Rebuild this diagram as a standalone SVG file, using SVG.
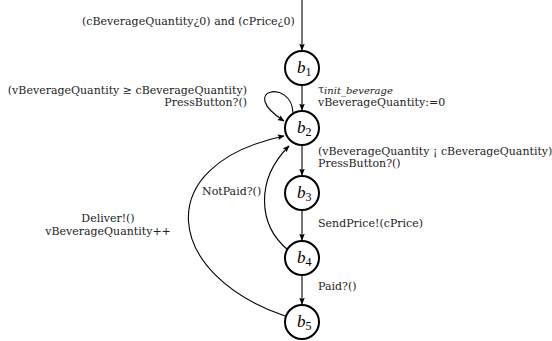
<svg xmlns="http://www.w3.org/2000/svg" width="552" height="341" viewBox="0 0 552 341">
<defs>
<marker id="ah" viewBox="0 0 10 10" refX="9" refY="5" markerWidth="7" markerHeight="7" markerUnits="userSpaceOnUse" orient="auto">
<path d="M0,1 L10,5 L0,9 L2,5 Z" fill="#000"/>
</marker>
<style>
.st{fill:#fff;stroke:#000;stroke-width:2}
.nl{font-family:"Liberation Serif",serif;font-style:italic;font-size:17px;fill:#000}
.sub{font-size:12px;font-style:normal}
.lb{font-family:"DejaVu Serif",serif;font-size:11px;fill:#222}
.ed{fill:none;stroke:#000;stroke-width:1.1;marker-end:url(#ah)}
</style>
</defs>
<rect width="552" height="341" fill="#fff"/>
<g id="edges">
<path class="ed" d="M302,0 L302,50"/>
<path class="ed" d="M302,85 L302,110"/>
<path class="ed" d="M293,113 C292,78 236,90 284,121"/>
<path class="ed" d="M302,145 L302,175"/>
<path class="ed" d="M302,210 L302,240"/>
<path class="ed" d="M302,275 L302,304"/>
<path class="ed" d="M288,250 C258,225 255,180 289,146"/>
<path class="ed" d="M285,316 C165,275 148,165 284,136"/>
</g>
<g id="edge-labels">
<text class="lb" x="82" y="25">(cBeverageQuantity¿0) and (cPrice¿0)</text>
<text class="lb" x="247" y="94" text-anchor="end">(vBeverageQuantity ≥ cBeverageQuantity)</text>
<text class="lb" x="247" y="106" text-anchor="end">PressButton?()</text>
<text class="lb" x="318" y="93">τ<tspan font-style="italic" font-size="10" dy="1">init_beverage</tspan></text>
<text class="lb" x="318" y="106">vBeverageQuantity:=0</text>
<text class="lb" x="318" y="155">(vBeverageQuantity ¡ cBeverageQuantity)</text>
<text class="lb" x="318" y="167">PressButton?()</text>
<text class="lb" x="318" y="227">SendPrice!(cPrice)</text>
<text class="lb" x="318" y="290">Paid?()</text>
<text class="lb" x="202" y="195">NotPaid?()</text>
<text class="lb" x="108" y="222" text-anchor="middle">Deliver!()</text>
<text class="lb" x="108" y="235" text-anchor="middle">vBeverageQuantity++</text>
</g>
<g id="b1"><circle class="st" cx="302" cy="68" r="17"/><text class="nl" x="297" y="73">b<tspan class="sub" dy="3">1</tspan></text></g>
<g id="b2"><circle class="st" cx="302" cy="128" r="17"/><text class="nl" x="297" y="133">b<tspan class="sub" dy="3">2</tspan></text></g>
<g id="b3"><circle class="st" cx="302" cy="193" r="17"/><text class="nl" x="297" y="198">b<tspan class="sub" dy="3">3</tspan></text></g>
<g id="b4"><circle class="st" cx="302" cy="258" r="17"/><text class="nl" x="297" y="263">b<tspan class="sub" dy="3">4</tspan></text></g>
<g id="b5"><circle class="st" cx="302" cy="322" r="17"/><text class="nl" x="297" y="327">b<tspan class="sub" dy="3">5</tspan></text></g>
</svg>
